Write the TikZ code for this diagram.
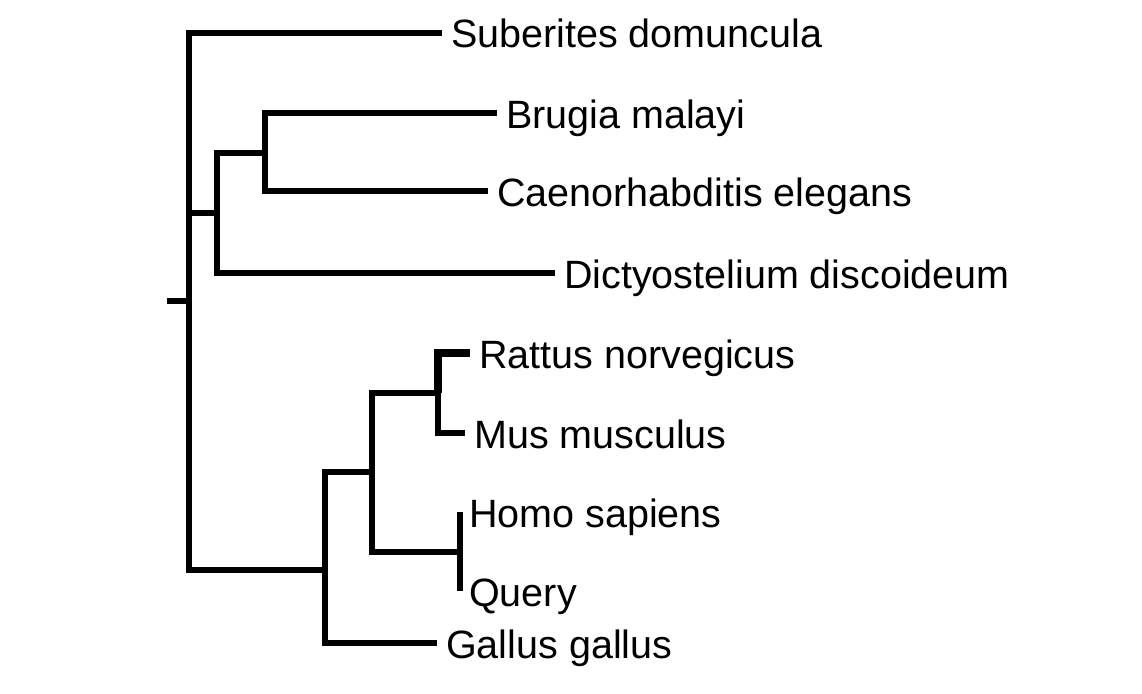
\documentclass[tikz,border=0pt]{standalone}
\usepackage{fontspec}
\setmainfont{Liberation Sans}
\usetikzlibrary{positioning, calc}

\begin{document}
\begin{tikzpicture}[x=1pt, y=-1pt,
  branch/.style={line width=6.5pt, black, line join=miter},
  leaf/.style={anchor=west, inner xsep=9pt, inner ysep=0pt,
    text height=39pt, text depth=9pt, font=\fontsize{39.5}{44}\selectfont}]
\useasboundingbox (0,0) rectangle (1142,693);

% ── Inner nodes of the tree ─────────────────────────────────────
\coordinate (stub) at (167,301);
\coordinate (root) at (189,301);
\coordinate (nema) at (217,213);
\coordinate (worm) at (265,153);
\coordinate (vert) at (325,570);
\coordinate (mamm) at (372,472);
\coordinate (rode) at (438,393);
\coordinate (homi) at (460,552);

% ── Leaves ──────────────────────────────────────────────────────
\node[leaf] (suberites) at (442,33)  {Suberites domuncula};
\node[leaf] (brugia)    at (497,113) {Brugia malayi};
\node[leaf] (caeno)     at (488,191) {Caenorhabditis elegans};
\node[leaf] (dicty)     at (555,273) {Dictyostelium discoideum};
\node[leaf] (rattus)    at (470,353) {Rattus norvegicus};
\node[leaf] (mus)       at (465,433) {Mus musculus};
\node[leaf] (homo)      at (460,512) {Homo sapiens};
\node[leaf] (query)     at (460,591) {Query};
\node[leaf] (gallus)    at (437,643) {Gallus gallus};

% ── Upper clade ─────────────────────────────────────────────────
\draw[branch] (stub) -- (root);
\draw[branch] (root) |- (suberites.west);
\draw[branch] (root) |- (nema);
\draw[branch] (nema) |- (worm);
\draw[branch] (worm) |- (brugia.west);
\draw[branch] (worm) |- (caeno.west);
\draw[branch] (nema) |- (dicty.west);

% ── Lower clade ─────────────────────────────────────────────────
\draw[branch] (root) |- (vert);
\draw[branch] (vert) |- (mamm);
\draw[branch] (vert) |- (gallus.west);
\draw[branch] (mamm) |- (rode);
\draw[branch, line width=8pt] (rode) |- (rattus.west);
\draw[branch] (rode) |- (mus.west);
\draw[branch] (mamm) |- (homi);
\draw[branch] (homi) -- (homo.west);
\draw[branch] (homi) -- (query.west);

\end{tikzpicture}
\end{document}
